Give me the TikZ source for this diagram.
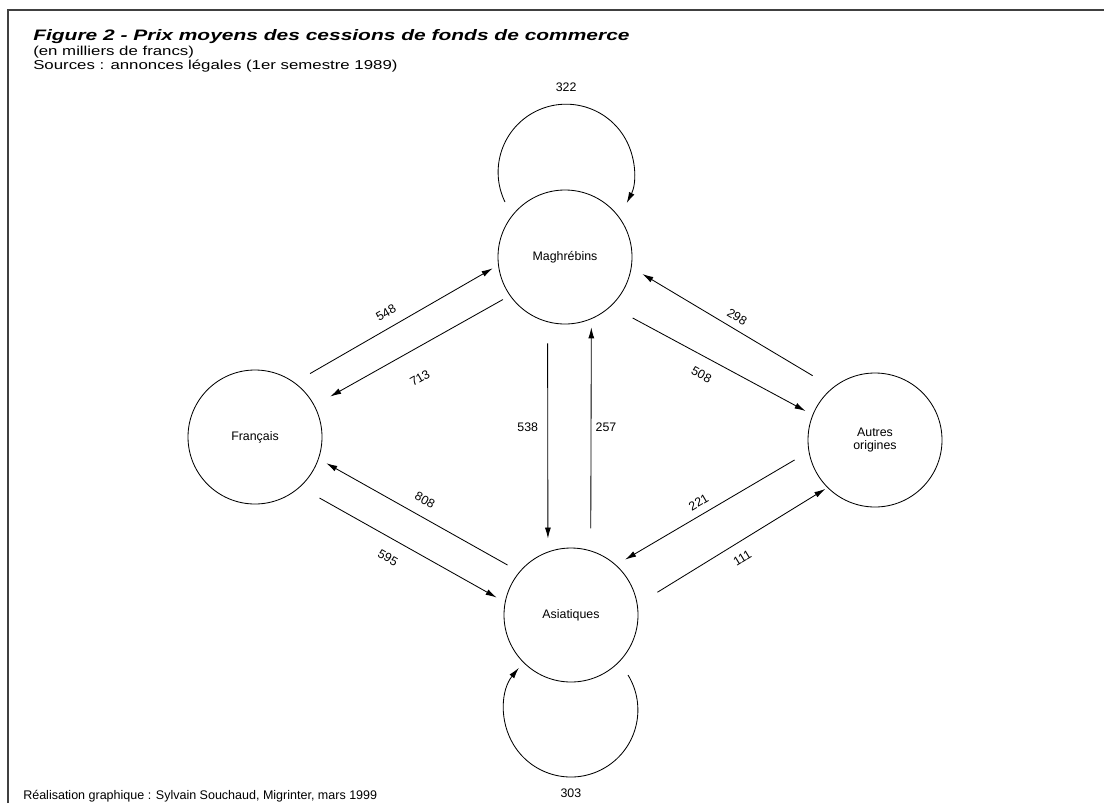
\documentclass[tikz,border=0pt]{standalone}
\usepackage{fontspec}
\setmainfont{Liberation Sans}
\newfontfamily\largefont[FakeStretch=1.38]{Liberation Sans}
\newfontfamily\widefont[FakeStretch=1.3]{Liberation Sans}
\usetikzlibrary{arrows.meta}
\newdimen\px \px=0.025cm
\tikzset{>={Latex[length=2.75mm,width=1.5mm]}}

\begin{document}
\begin{tikzpicture}[x=0.025cm,y=-0.025cm,
  pays/.style={draw,circle,minimum size=134\px,inner sep=0pt,line width=0.6pt,
    font=\fontsize{8.8}{10}\selectfont,align=center},
  flux/.style={->,line width=0.6pt},
  prix/.style={font=\fontsize{8.8}{10}\selectfont,sloped,inner sep=0pt},
  prixh/.style={font=\fontsize{8.8}{10}\selectfont,inner sep=0pt}]
  \useasboundingbox (0,0) rectangle (1104,803);
  % Frame
  \draw[line width=1.2pt,black!75] (8,803) -- (8,10) -- (1104,10);

  % Titles
  \node[anchor=base west,font=\largefont\fontsize{10.8}{12}\selectfont\bfseries\itshape,inner sep=0pt] (titre) at (33,40)
    {Figure 2 - Prix moyens des cessions de fonds de commerce};
  \node[anchor=base west,font=\widefont\fontsize{9.2}{11}\selectfont,inner sep=0pt] (unite) at (33,55)
    {(en milliers de francs)};
  \node[anchor=base west,font=\widefont\fontsize{9.2}{11}\selectfont,inner sep=0pt] (source) at (33,69)
    {Sources : annonces légales (1er semestre 1989)};
  \node[anchor=base west,font=\fontsize{8.9}{10}\selectfont,inner sep=0pt] (credit) at (23,799)
    {Réalisation graphique : Sylvain Souchaud, Migrinter, mars 1999};

  % Groups
  \node[pays] (mag) at (565,257) {Maghrébins};
  \node[pays] (fra) at (255,437) {Français};
  \node[pays] (aut) at (875,440) {Autres\\[-1pt]origines};
  \node[pays] (asi) at (571,615) {Asiatiques};

  % Self loops
  \draw[flux] (mag) ++(-60\px,55\px) arc[start angle=206,end angle=-27,radius=68\px]
    node[prixh,pos=0.498,yshift=17\px] {322};
  \draw[flux] (asi) ++(57\px,-60\px) arc[start angle=31.5,end angle=-219,radius=67\px]
    node[prixh,pos=0.485,yshift=-16\px] {303};

  % Francais <-> Maghrebins
  \draw[flux,shorten <=17.8\px,shorten >=6.3\px] (fra.54) --
    node[prix,pos=0.485,yshift=14.7\px] {548} (mag.187);
  \draw[flux,shorten <=7.9\px,shorten >=18\px] (mag.215) --
    node[prix,pos=0.53,yshift=-27.8\px] {713} (fra.28);
  % Autres <-> Maghrebins
  \draw[flux,shorten <=23.2\px,shorten >=12.6\px] (aut.129) --
    node[prix,pos=0.505,yshift=11.8\px] {298} (mag.-9);
  \draw[flux,shorten <=24.6\px,shorten >=7.9\px] (mag.-47.5) --
    node[prix,pos=0.49,yshift=-17.3\px] {508} (aut.158);
  % Asiatiques <-> Francais
  \draw[flux,shorten <=13.6\px,shorten >=8.7\px] (asi.140) --
    node[prix,pos=0.51,yshift=16.1\px] {808} (fra.-19);
  \draw[flux,shorten <=22.3\px,shorten >=9.4\px] (fra.-48) --
    node[prix,pos=0.474,yshift=-18.5\px] {595} (asi.169);
  % Autres <-> Asiatiques
  \draw[flux,shorten <=16.3\px,shorten >=10.5\px] (aut.190) --
    node[prix,pos=0.54,yshift=12.1\px] {221} (asi.48);
  \draw[flux,shorten <=23.3\px,shorten >=2.4\px] (asi.9) --
    node[prix,pos=0.51,yshift=-15.1\px] {111} (aut.225);
  % Maghrebins <-> Asiatiques
  \draw[flux,shorten <=21.2\px,shorten >=13.1\px] (mag.255) --
    node[prixh,pos=0.457,xshift=-20\px] {538} (asi.110);
  \draw[flux,shorten <=22.1\px,shorten >=8.3\px] (asi.73) --
    node[prixh,pos=0.534,xshift=15\px] {257} (mag.-67);
\end{tikzpicture}
\end{document}
